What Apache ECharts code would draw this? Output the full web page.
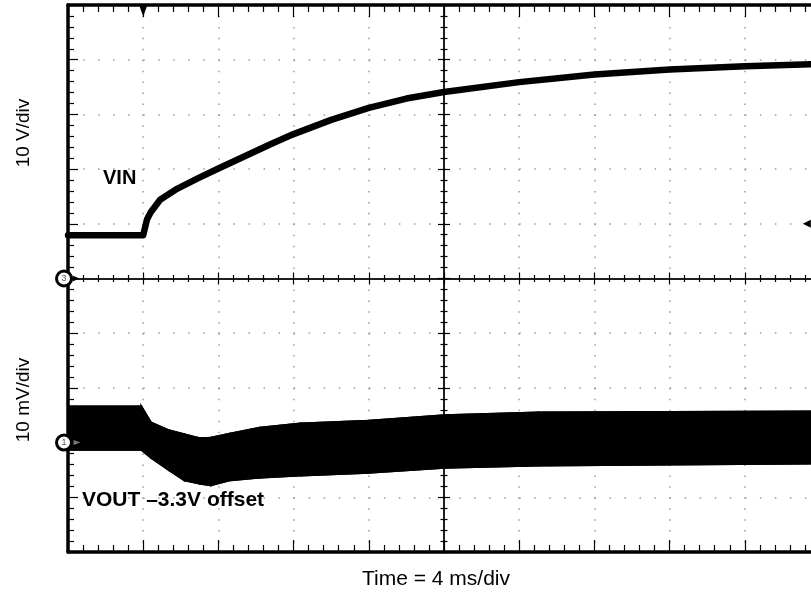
<!DOCTYPE html>
<html>
<head>
<meta charset="utf-8">
<title>VIN / VOUT start-up</title>
<script src="https://cdn.jsdelivr.net/npm/echarts@6.0.0/dist/echarts.min.js"></script>
<style>
  html, body { margin: 0; padding: 0; background: #fff; }
  #chart { width: 811px; height: 593px; }
</style>
</head>
<body>
<div id="chart"></div>
<script>
// time in ms from the trigger (4 ms/div, trigger one div from the left)
var vinTime  = [-4, 0, 0.2, 0.4, 0.9, 1.8, 2.9, 4, 5, 6.8, 8, 10, 12, 14, 16, 20, 24, 28, 32, 36];
var vinVolts = [7.9, 7.9, 10.8, 12.1, 14.4, 16.4, 18.3, 20.1, 21.7, 24.6, 26.4, 29.0, 31.2, 32.9, 34.1, 35.9, 37.3, 38.2, 38.8, 39.2];

// VOUT ripple band (mV, after the 3.3 V offset): top and bottom of the noise envelope
var voutTime = [-4, -0.1, 0.4, 1.4, 2.2, 3.0, 3.6, 4.6, 6.2, 8.4, 12, 16, 21, 28, 36];
var voutHigh = [6.6, 6.6, 3.7, 2.2, 1.5, 0.8, 0.9, 1.6, 2.7, 3.5, 4.0, 5.0, 5.5, 5.6, 5.7];
var voutLow  = [-1.3, -1.3, -2.7, -5.1, -6.9, -7.5, -7.8, -6.9, -6.4, -6.0, -5.5, -4.6, -4.2, -4.0, -3.8];

var font = "'Liberation Sans', Arial, sans-serif";
var black = '#000';
var tickStyle = { color: black, width: 1.2 };
var dotColor = '#9a9a9a';

var chart = echarts.init(document.getElementById('chart'));

function pairs(xs, ys) {
  return xs.map(function (x, i) { return [x, ys[i]]; });
}

// one quad per step of the envelope: [t0, hi0, lo0, t1, hi1, lo1]
var bandSegments = [];
for (var i = 0; i < voutTime.length - 1; i++) {
  bandSegments.push([voutTime[i], voutHigh[i], voutLow[i], voutTime[i + 1], voutHigh[i + 1], voutLow[i + 1]]);
}

// centre cross-hair axes: one with ticks on each side
function centreX(inside) {
  return {
    type: 'value', min: -4, max: 36, interval: 4,
    position: 'top', offset: -273.5,
    axisLine: { onZero: false, lineStyle: { color: '#111', width: 1.5 } },
    axisTick: { inside: inside, length: 6, lineStyle: tickStyle },
    minorTick: { show: true, splitNumber: 5, length: 3.5, lineStyle: tickStyle },
    axisLabel: { show: false },
    splitLine: { show: false }
  };
}
function centreY(inside) {
  return {
    type: 'value', min: -50, max: 50, interval: 10,
    position: 'left', offset: -376,
    axisLine: { onZero: false, lineStyle: { color: '#111', width: 1.5 } },
    axisTick: { inside: inside, length: 6, lineStyle: tickStyle },
    minorTick: { show: true, splitNumber: 5, length: 3.5, lineStyle: tickStyle },
    axisLabel: { show: false },
    splitLine: { show: false }
  };
}

function channelMarker(num) {
  return { coord: [-4, 0], symbol: 'circle', symbolSize: 15, symbolOffset: [-4, 0],
    itemStyle: { color: '#fff', borderColor: black, borderWidth: 3 },
    label: { show: true, formatter: num, fontSize: 9, color: '#555', fontFamily: font } };
}

var option = {
  animation: false,
  backgroundColor: '#fff',
  grid: { left: 68, top: 5, right: -9, bottom: 41, outerBoundsMode: 'none' },
  xAxis: [
    {
      type: 'value', min: -4, max: 36, interval: 4, position: 'bottom',
      axisLine: { onZero: false, lineStyle: { color: black, width: 3.5 } },
      axisTick: { inside: true, length: 12, lineStyle: tickStyle },
      minorTick: { show: true, splitNumber: 5, length: 7, lineStyle: tickStyle },
      axisLabel: { show: false },
      splitLine: { show: true, lineStyle: { color: dotColor, width: 1.5, type: [1.5, 9.44] } },
      name: 'Time = 4 ms/div',
      nameLocation: 'middle',
      nameGap: 17,
      nameTextStyle: { fontFamily: font, fontSize: 21, color: black, padding: [0, 16, 0, 0] }
    },
    {
      type: 'value', min: -4, max: 36, interval: 4, position: 'top',
      axisLine: { onZero: false, lineStyle: { color: black, width: 3.5 } },
      axisTick: { inside: true, length: 12, lineStyle: tickStyle },
      minorTick: { show: true, splitNumber: 5, length: 7, lineStyle: tickStyle },
      axisLabel: { show: false },
      splitLine: { show: false }
    },
    centreX(true),
    centreX(false)
  ],
  yAxis: [
    {
      // channel 3: VIN, 10 V/div
      type: 'value', min: -50, max: 50, interval: 10, position: 'left',
      axisLine: { onZero: false, lineStyle: { color: black, width: 3.5 } },
      axisTick: { inside: true, length: 10, lineStyle: tickStyle },
      minorTick: { show: true, splitNumber: 5, length: 6, lineStyle: tickStyle },
      axisLabel: { show: false },
      splitLine: { show: true, lineStyle: { color: dotColor, width: 1.5, type: [1.5, 13.54] } }
    },
    {
      // channel 1: VOUT, 10 mV/div
      type: 'value', min: -20, max: 80, interval: 10, show: false
    },
    centreY(true),
    centreY(false)
  ],
  graphic: [
    { type: 'text', x: 24, y: 133, rotation: Math.PI / 2,
      style: { text: '10 V/div', fontFamily: font, fontSize: 19, fill: black, align: 'center', verticalAlign: 'middle' } },
    { type: 'text', x: 24, y: 400, rotation: Math.PI / 2,
      style: { text: '10 mV/div', fontFamily: font, fontSize: 19, fill: black, align: 'center', verticalAlign: 'middle' } },
    { type: 'text', x: 103, y: 178, z: 10,
      style: { text: 'VIN', fontFamily: font, fontSize: 20, fontWeight: 'bold', fill: black, verticalAlign: 'middle' } },
    { type: 'text', x: 82, y: 500, z: 10,
      style: { text: 'VOUT \u20133.3V offset', fontFamily: font, fontSize: 21, fontWeight: 'bold', fill: black, verticalAlign: 'middle' } }
  ],
  series: [
    {
      name: 'VIN', type: 'line', xAxisIndex: 0, yAxisIndex: 0,
      data: pairs(vinTime, vinVolts),
      symbol: 'none',
      lineStyle: { color: black, width: 6.5, join: 'round', cap: 'round' },
      z: 3,
      markPoint: {
        silent: true,
        data: [
          channelMarker('3'),
          { coord: [-4, 0], symbol: 'triangle', symbolSize: [6, 7], symbolRotate: -90, symbolOffset: [8, 0],
            itemStyle: { color: black }, label: { show: false } },
          { coord: [0, 50], symbol: 'triangle', symbolSize: [8, 11], symbolRotate: 180, symbolOffset: [0, 6],
            itemStyle: { color: black }, label: { show: false } },
          { coord: [35.3, 10], symbol: 'triangle', symbolSize: [8, 8], symbolRotate: 90,
            itemStyle: { color: black }, label: { show: false } }
        ]
      }
    },
    {
      name: 'VOUT band', type: 'custom', xAxisIndex: 0, yAxisIndex: 1,
      data: bandSegments,
      encode: { x: [0, 3], y: [1, 2, 4, 5] },
      renderItem: function (params, api) {
        var a = api.coord([api.value(0), api.value(1)]);
        var b = api.coord([api.value(3), api.value(4)]);
        var c = api.coord([api.value(3), api.value(5)]);
        var d = api.coord([api.value(0), api.value(2)]);
        return {
          type: 'polygon',
          shape: { points: [a, b, c, d] },
          style: { fill: black, stroke: black, lineWidth: 2 }
        };
      },
      z: 2
    },
    {
      name: 'VOUT low', type: 'line', xAxisIndex: 0, yAxisIndex: 1,
      data: pairs(voutTime, voutLow),
      symbol: 'none',
      lineStyle: { color: black, width: 2 },
      z: 3,
      markPoint: {
        silent: true,
        data: [
          channelMarker('1'),
          { coord: [-4, 0], symbol: 'triangle', symbolSize: [5, 7], symbolRotate: -90, symbolOffset: [9, 0],
            itemStyle: { color: '#777' }, label: { show: false } }
        ]
      }
    },
    {
      name: 'VOUT high', type: 'line', xAxisIndex: 0, yAxisIndex: 1,
      data: pairs(voutTime, voutHigh),
      symbol: 'none',
      lineStyle: { color: black, width: 2 },
      z: 3
    }
  ]
};

chart.setOption(option);
</script>
</body>
</html>
